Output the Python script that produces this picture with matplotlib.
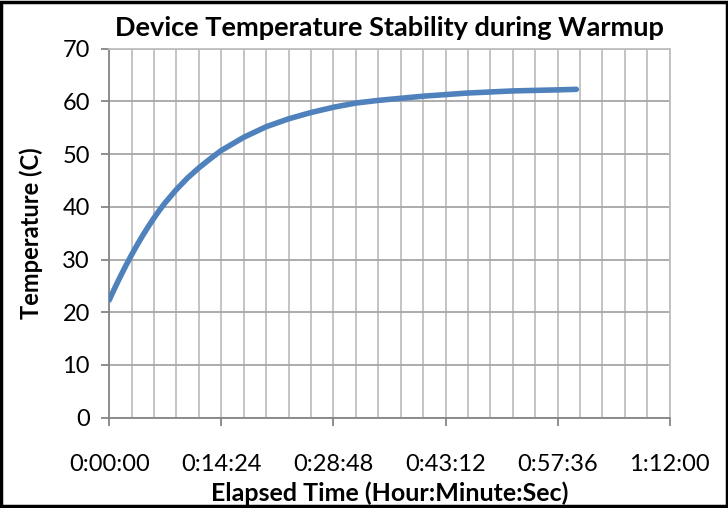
import matplotlib
matplotlib.use("Agg")
import matplotlib.pyplot as plt
from matplotlib.patches import Rectangle
from matplotlib.ticker import MultipleLocator, FuncFormatter

# Data (elapsed minutes, temperature C)
elapsed_min = [0, 0.72, 1.44, 2.16, 2.88, 3.6, 4.32, 5.04, 5.76, 6.48, 7.2, 8.64, 10.08,
               11.52, 12.96, 14.4, 17.28, 20.16, 23.04, 25.92, 28.8, 31.68, 34.56,
               37.44, 40.32, 43.2, 46.08, 48.96, 51.84, 54.72, 57.6, 60.0]
temperature = [22.3, 24.6, 26.8, 28.9, 30.9, 32.8, 34.6, 36.3, 37.9, 39.4, 40.8, 43.3,
               45.5, 47.4, 49.1, 50.7, 53.2, 55.2, 56.7, 57.9, 58.9, 59.7, 60.2,
               60.6, 61.0, 61.3, 61.6, 61.8, 62.0, 62.1, 62.2, 62.3]

title = "Device Temperature Stability during Warmup"
xlabel = "Elapsed Time (Hour:Minute:Sec)"
ylabel = "Temperature (C)"

plt.rcParams['font.family'] = ['Lato', 'DejaVu Sans']

fig = plt.figure(figsize=(7.28, 5.08), dpi=100)
ax = fig.add_axes([0.150, 0.178, 0.770, 0.726])

ax.plot(elapsed_min, temperature, color='#4F81BD', lw=4.0, solid_capstyle='round',
        solid_joinstyle='round', zorder=3)

ax.set_xlim(0, 72)
ax.set_ylim(0, 70)
ax.xaxis.set_major_locator(MultipleLocator(14.4))
ax.xaxis.set_minor_locator(MultipleLocator(2.88))
ax.yaxis.set_major_locator(MultipleLocator(10))

def fmt(v, pos):
    s = int(round(v * 60))
    return f"{s // 3600}:{(s % 3600) // 60:02d}:{s % 60:02d}"
ax.xaxis.set_major_formatter(FuncFormatter(fmt))

ax.grid(True, which='both', axis='x', color='#BFBFBF', lw=1.3)
ax.grid(True, which='major', axis='y', color='#A6A6A6', lw=1.3)
ax.set_axisbelow(True)

for s in ['top', 'right']:
    ax.spines[s].set_color('#BFBFBF')
    ax.spines[s].set_linewidth(1.3)
for s in ['left', 'bottom']:
    ax.spines[s].set_color('#868686')
    ax.spines[s].set_linewidth(1.3)

ax.tick_params(axis='both', which='major', direction='out', length=6, width=1.3,
               color='#868686', labelsize=17, labelcolor='black')
ax.tick_params(axis='x', which='major', pad=20)
ax.tick_params(axis='y', which='major', pad=8)
ax.tick_params(axis='x', which='minor', length=0)

ax.set_title(title, fontsize=19.5, fontweight='bold', pad=9)
ax.set_xlabel(xlabel, fontsize=18, fontweight='bold', labelpad=5)
ax.set_ylabel(ylabel, fontsize=17, fontweight='bold', labelpad=14)

fig.patches.append(Rectangle((0.002, 0.003), 0.996, 0.994, transform=fig.transFigure,
                             fill=False, edgecolor='black', lw=2.5))

fig.savefig("out.png", dpi=100)
